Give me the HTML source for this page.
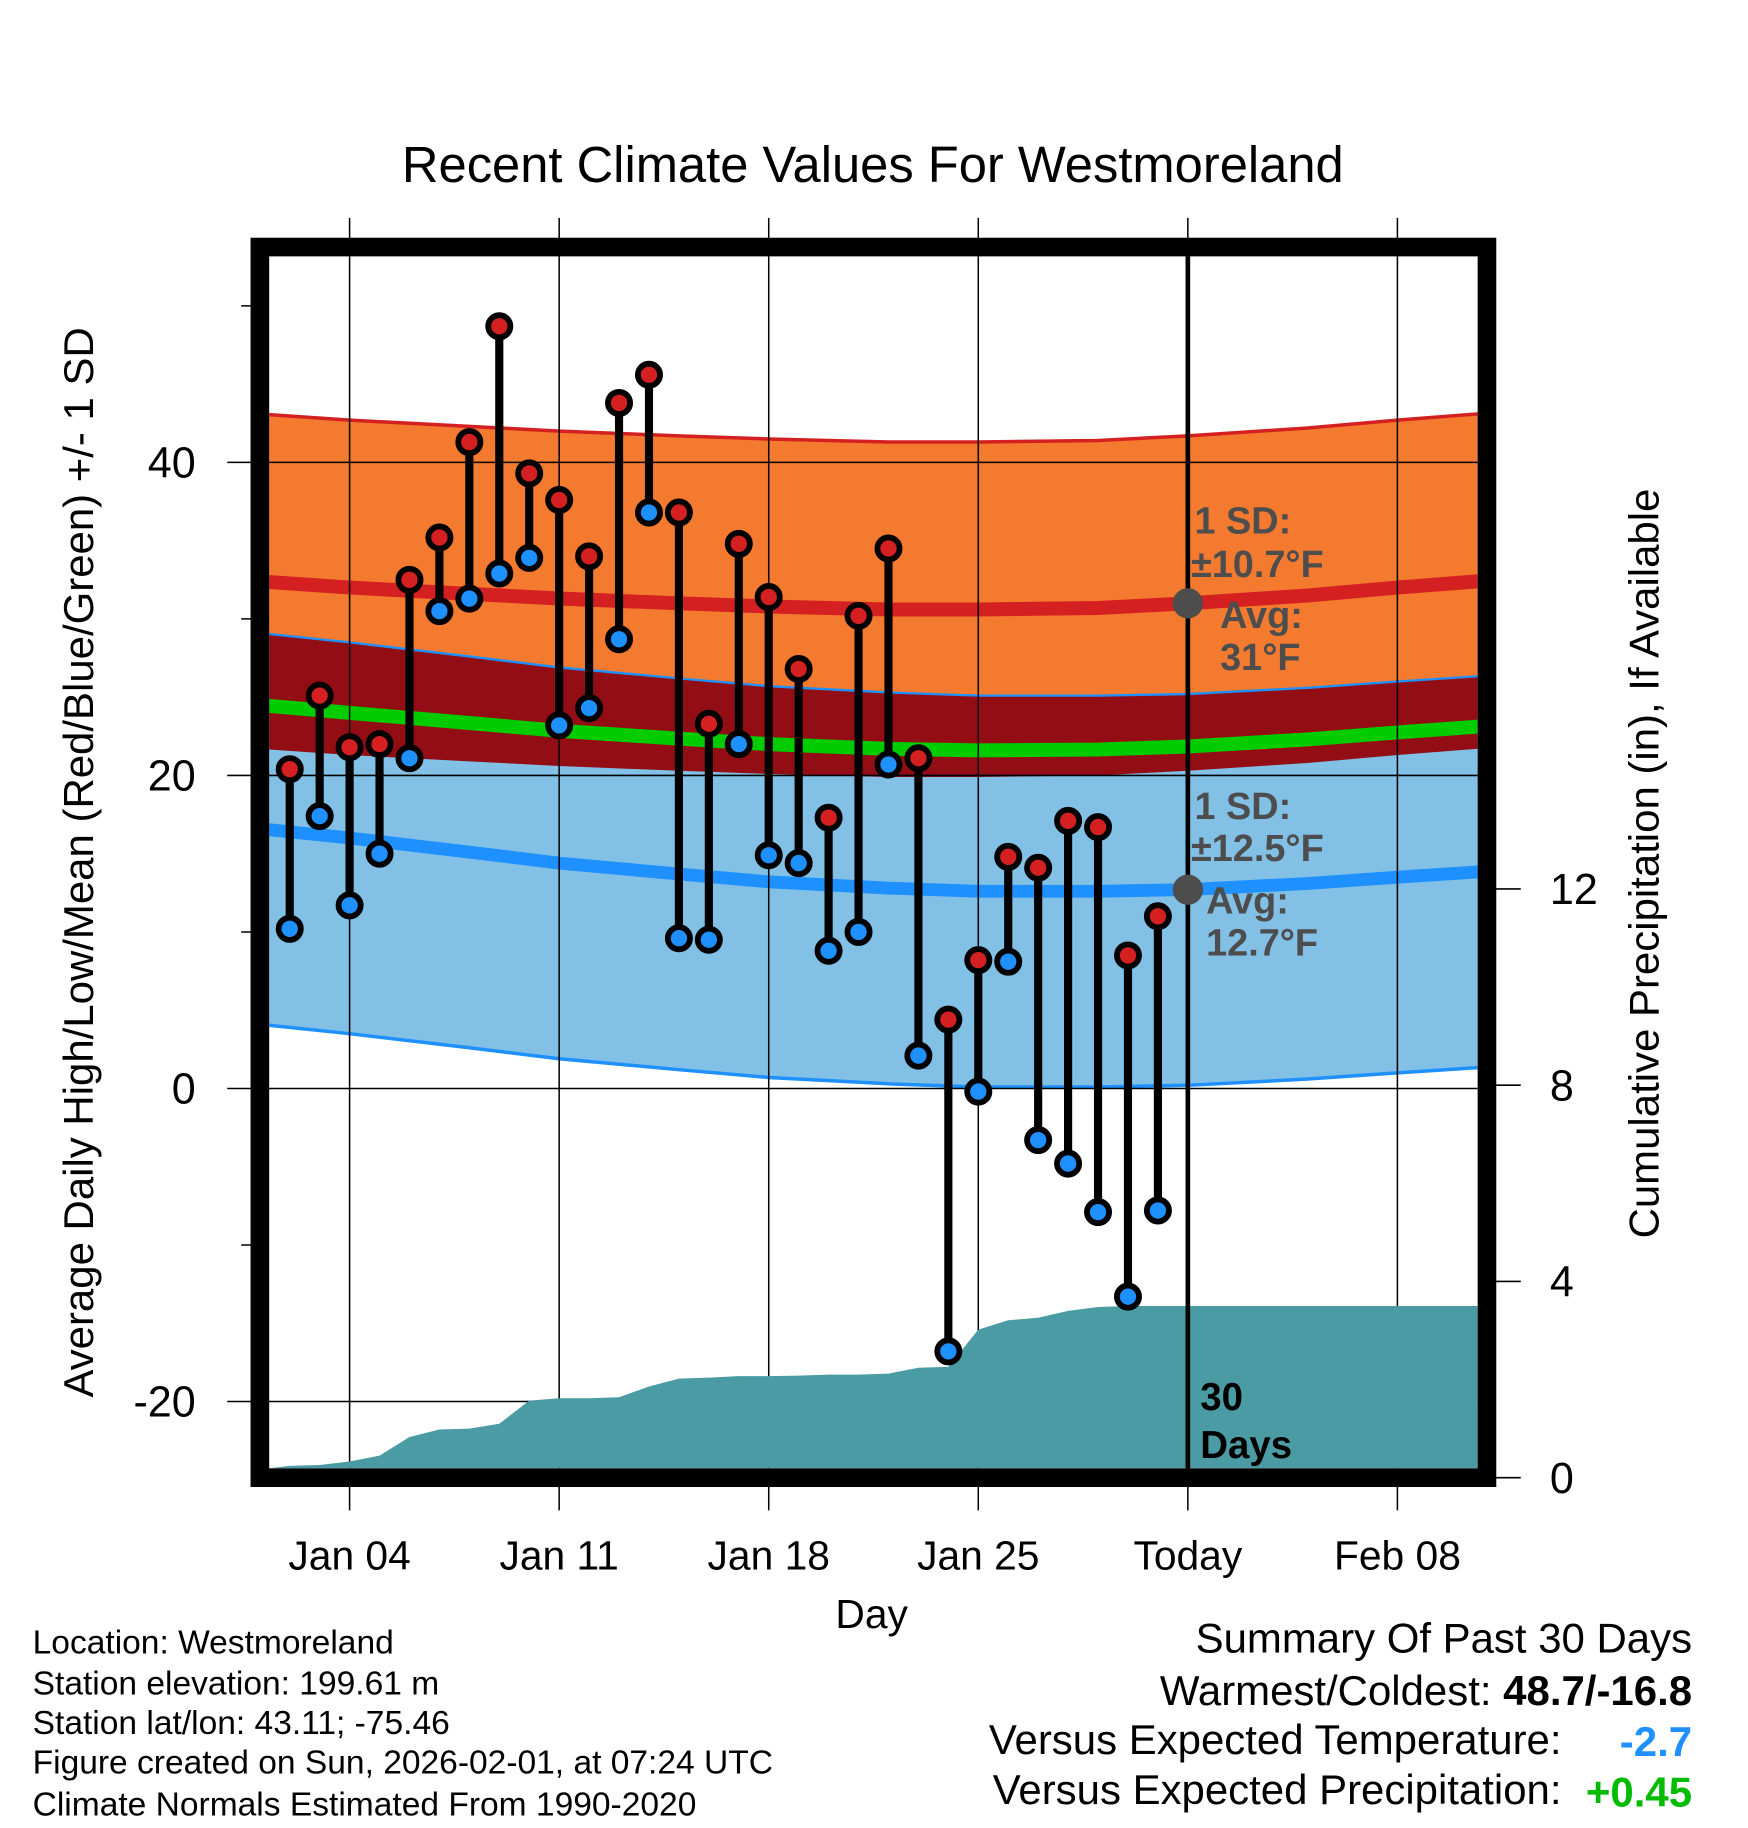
<!DOCTYPE html>
<html><head><meta charset="utf-8">
<style>html,body{margin:0;padding:0;background:#fff}svg{display:block}text{font-family:"Liberation Sans",Arial,sans-serif}</style>
</head><body>
<svg id="chart" width="1748" height="1828" viewBox="0 0 1500 1568.6" preserveAspectRatio="none" xmlns="http://www.w3.org/2000/svg">
<g id="bands"></g>
<g id="grid"></g>
<g id="precip"></g>
<g id="obs"></g>
<g id="frame"></g>
<text x="749" y="156" font-size="43.5" text-anchor="middle">Recent Climate Values For Westmoreland</text>
<text x="748" y="1397" font-size="35" text-anchor="middle">Day</text>
<text transform="translate(80,740) rotate(-90)" font-size="36" text-anchor="middle">Average Daily High/Low/Mean (Red/Blue/Green) +/- 1 SD</text>
<text transform="translate(1423,741) rotate(-90)" font-size="36" text-anchor="middle">Cumulative Precipitation (in), If Available</text>
<g font-size="32.5" font-weight="bold" fill="#4d4d4d">
<text x="1025" y="458">1 SD:</text><text x="1022" y="495">±10.7°F</text>
<text x="1047" y="539">Avg:</text><text x="1047" y="575">31°F</text>
<text x="1025" y="703">1 SD:</text><text x="1022" y="739">±12.5°F</text>
<text x="1035" y="784">Avg:</text><text x="1035" y="820">12.7°F</text>
</g>
<g font-size="33" font-weight="bold"><text x="1030" y="1210">30</text><text x="1030" y="1251">Days</text></g>
<g font-size="28.8">
<text x="28" y="1419">Location: Westmoreland</text>
<text x="28" y="1454">Station elevation: 199.61 m</text>
<text x="28" y="1488">Station lat/lon: 43.11; -75.46</text>
<text x="28" y="1522">Figure created on Sun, 2026-02-01, at 07:24 UTC</text>
<text x="28" y="1558">Climate Normals Estimated From 1990-2020</text>
</g>
<g font-size="36" text-anchor="end">
<text x="1452" y="1418">Summary Of Past 30 Days</text>
<text x="1452" y="1463">Warmest/Coldest: <tspan font-weight="bold">48.7/-16.8</tspan></text>
<text x="1340" y="1505">Versus Expected Temperature:</text>
<text x="1452" y="1507" font-weight="bold" fill="#1e90ff">-2.7</text>
<text x="1340" y="1548">Versus Expected Precipitation:</text>
<text x="1452" y="1550" font-weight="bold" fill="#00bb00">+0.45</text>
</g>
<script>
// Observed data (day of January)
const days = [2,3,4,5,6,7,8,9,10,11,12,13,14,15,16,17,18,19,20,21,22,23,24,25,26,27,28,29,30,31];
const highs = [20.4,25.1,21.8,22.0,32.5,35.2,41.3,48.7,39.3,37.6,34.0,43.8,45.6,36.8,23.3,34.8,31.4,26.8,17.3,30.2,34.5,21.1,4.4,8.2,14.8,14.1,17.1,16.7,8.5,11.0];
const lows = [10.2,17.4,11.7,15.0,21.1,30.5,31.3,32.9,33.9,23.2,24.3,28.7,36.8,9.6,9.5,22.0,14.9,14.4,8.8,10.0,20.7,2.1,-16.8,-0.2,8.1,-3.3,-4.8,-7.9,-13.3,-7.8];
const precip = [0.24,0.26,0.33,0.45,0.83,0.98,1.0,1.1,1.57,1.62,1.62,1.64,1.86,2.02,2.04,2.07,2.07,2.08,2.1,2.1,2.12,2.24,2.26,3.02,3.21,3.26,3.4,3.48,3.5,3.5];
// Normals
const normDays = [1,4,8,11,15,18,22,25,29,32,36,39,43];
const normHigh = [32.4,32.0,31.6,31.3,31.0,30.8,30.6,30.6,30.7,31.0,31.5,32.0,32.6];
const normLow = [16.6,16.0,15.1,14.4,13.7,13.2,12.8,12.6,12.6,12.7,13.1,13.5,14.0];
const sdHigh = 10.7, sdLow = 12.5;
const xTickDays = [4,11,18,25,32,39];
const xTickLabels = ['Jan 04','Jan 11','Jan 18','Jan 25','Today','Feb 08'];
const yTicks = [-20,0,20,40];
const yMinor = [-10,10,30,50];
const y2Ticks = [0,4,8,12];
const todayDay = 32;

const NS='http://www.w3.org/2000/svg';
const L=231,R=1268,T=220,B=1260;
const X=d=>300+(d-4)*25.69;
const Y=v=>934-v*13.43;
const Y2=p=>1268-p*42.1;
function mk(par,tag,at){const e=document.createElementNS(NS,tag);for(const k in at)e.setAttribute(k,at[k]);par.appendChild(e);return e;}
const svg=document.getElementById('chart');
const defs=mk(svg,'defs',{});const cp=mk(defs,'clipPath',{id:'pc'});mk(cp,'rect',{x:L,y:T,width:R-L,height:B-T});
const bands=document.getElementById('bands');bands.setAttribute('clip-path','url(#pc)');
function line(f){return normDays.map((d,i)=>X(d).toFixed(1)+','+Y(f(i)).toFixed(1));}
function band(fu,fl,color,name){const up=line(fu),lo=line(fl).reverse();const p=mk(bands,'polygon',{points:up.concat(lo).join(' '),fill:color});

}
band(i=>normHigh[i]+sdHigh,i=>normHigh[i]-sdHigh,'#f47a30','high-sd-band');
band(i=>normLow[i]+sdLow,i=>normLow[i]-sdLow,'#82c0e6','low-sd-band');
band(i=>normLow[i]+sdLow,i=>normHigh[i]-sdHigh,'#930e14','overlap-band');
function pl(f,color,w,name){const p=mk(bands,'polyline',{points:line(f).join(' '),fill:'none',stroke:color,'stroke-width':w});

}
pl(i=>normHigh[i]+sdHigh,'#d42020',3,'high-upper-line');
pl(i=>normLow[i]+sdLow,'#1e90ff',2,'low-upper-line');
pl(i=>normLow[i]-sdLow,'#1e90ff',3,'low-lower-line');
pl(i=>normHigh[i],'#d42020',12,'normal-high-line');
pl(i=>(normHigh[i]+normLow[i])/2,'#00cc00',12,'normal-mean-line');
pl(i=>normLow[i],'#1e90ff',11,'normal-low-line');
// grid
const g=document.getElementById('grid');
xTickDays.forEach((d,i)=>{const l=mk(g,'line',{x1:X(d),x2:X(d),y1:187,y2:1296,stroke:'#000','stroke-width':1.3});


const t=mk(g,'text',{x:X(d),y:1347,'font-size':35,'text-anchor':'middle'});t.textContent=xTickLabels[i];

});
yTicks.forEach(v=>{const l=mk(g,'line',{x1:195,x2:R,y1:Y(v),y2:Y(v),stroke:'#000','stroke-width':1.3});


const t=mk(g,'text',{x:168,y:Y(v)+13,'font-size':37,'text-anchor':'end'});t.textContent=v;

});
yMinor.forEach(v=>{const l=mk(g,'line',{x1:207,x2:L,y1:Y(v),y2:Y(v),stroke:'#000','stroke-width':1.3});

});
y2Ticks.forEach(v=>{const l=mk(g,'line',{x1:1283,x2:1305,y1:Y2(v),y2:Y2(v),stroke:'#000','stroke-width':1.3});


const t=mk(g,'text',{x:1330,y:Y2(v)+13,'font-size':37});t.textContent=v;

});
// precip
const pg=document.getElementById('precip');pg.setAttribute('clip-path','url(#pc)');
const pts=days.map((d,i)=>X(d).toFixed(1)+','+Y2(precip[i]).toFixed(1));
pts.push(R+','+Y2(precip[precip.length-1]).toFixed(1));
const pa=mk(pg,'polygon',{points:L+','+B+' '+L+','+Y2(precip[0]*0.8).toFixed(1)+' '+pts.join(' ')+' '+R+','+B,fill:'#4a9ba3'});


// today line
const tl=mk(pg,'line',{x1:X(todayDay),x2:X(todayDay),y1:T,y2:B,stroke:'#000','stroke-width':4});


const hd=mk(pg,'circle',{cx:X(todayDay),cy:Y(31),r:13,fill:'#4d4d4d'});


const ld=mk(pg,'circle',{cx:X(todayDay),cy:Y(12.7),r:13,fill:'#4d4d4d'});


// observations
const og=document.getElementById('obs');
days.forEach((d,i)=>{const x=X(d);
const s=mk(og,'line',{x1:x,x2:x,y1:Y(highs[i]),y2:Y(lows[i]),stroke:'#000','stroke-width':7});


const h=mk(og,'circle',{cx:x,cy:Y(highs[i]),r:9.5,fill:'#d42020',stroke:'#000','stroke-width':5});


const lo=mk(og,'circle',{cx:x,cy:Y(lows[i]),r:9.5,fill:'#1e90ff',stroke:'#000','stroke-width':5});

});
// frame
const fr=mk(document.getElementById('frame'),'rect',{x:L-8,y:T-8,width:R-L+16,height:B-T+16,fill:'none',stroke:'#000','stroke-width':16});


</script>
</svg>
</body></html>
